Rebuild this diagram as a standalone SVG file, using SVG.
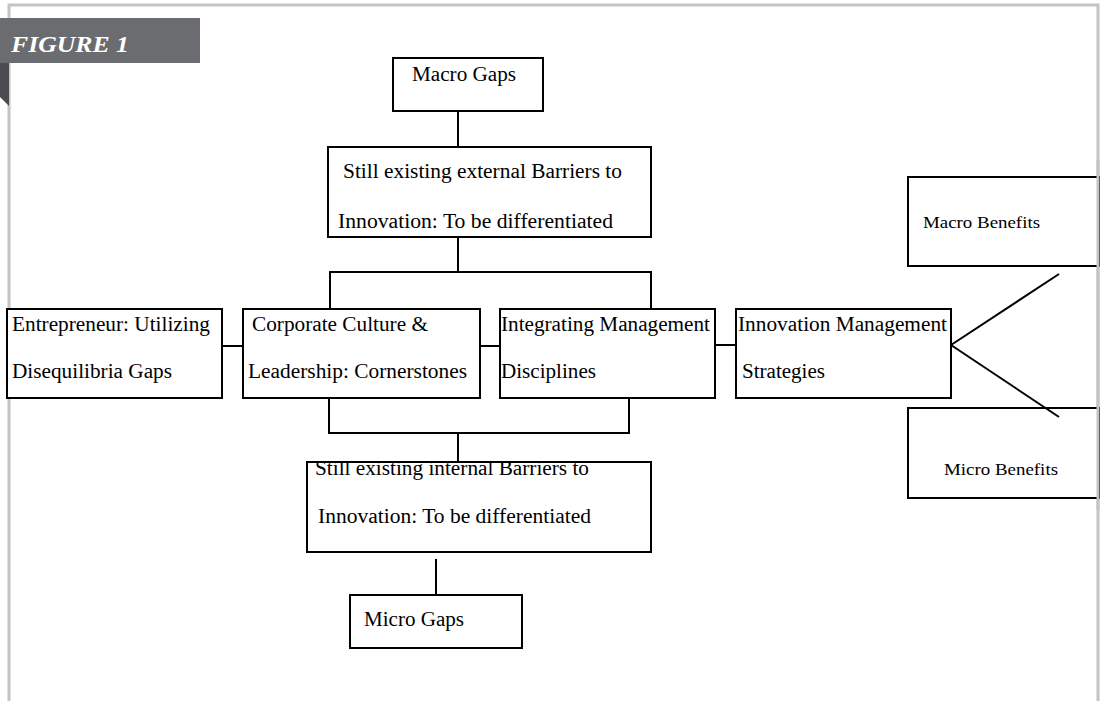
<svg xmlns="http://www.w3.org/2000/svg" width="1100" height="701" viewBox="0 0 1100 701">
<style>
.box{fill:#fff;stroke:#000;stroke-width:2}
.ln{fill:none;stroke:#000;stroke-width:2}
.t{font-family:"Liberation Serif","Times New Roman",serif;font-size:20px;fill:#000}
.s{font-family:"Liberation Serif","Times New Roman",serif;font-size:17px;fill:#000}
</style>
<rect width="1100" height="701" fill="#fff"/>
<path d="M9,701 V5 H1098 V701" fill="none" stroke="#c4c4c4" stroke-width="3"/>
<g id="banner">
<polygon points="0,63 9,63 9,106 0,97" fill="#4b4c50"/>
<rect x="0" y="18" width="200" height="45" fill="#6b6c70"/>
<text x="11" y="52" font-family="Liberation Serif,serif" font-style="italic" font-weight="bold" font-size="23" fill="#fff" textLength="118" lengthAdjust="spacingAndGlyphs">FIGURE 1</text>
</g>
<g id="macro-gaps">
<rect class="box" x="393" y="58" width="150" height="53"/>
<text class="t" x="412" y="81" textLength="104" lengthAdjust="spacingAndGlyphs">Macro Gaps</text>
</g>
<g id="external-barriers">
<rect class="box" x="328" y="147" width="323" height="90"/>
<text class="t" x="343" y="178" textLength="279" lengthAdjust="spacingAndGlyphs">Still existing external Barriers to</text>
<text class="t" x="338" y="228" textLength="275" lengthAdjust="spacingAndGlyphs">Innovation: To be differentiated</text>
</g>
<g id="entrepreneur">
<rect class="box" x="7" y="309" width="215" height="89"/>
<text class="t" x="12" y="331" textLength="198" lengthAdjust="spacingAndGlyphs">Entrepreneur: Utilizing</text>
<text class="t" x="12" y="378" textLength="160" lengthAdjust="spacingAndGlyphs">Disequilibria Gaps</text>
</g>
<g id="corporate-culture">
<rect class="box" x="243" y="309" width="237" height="89"/>
<text class="t" x="252" y="331" textLength="176" lengthAdjust="spacingAndGlyphs">Corporate Culture &amp;</text>
<text class="t" x="248" y="378" textLength="219" lengthAdjust="spacingAndGlyphs">Leadership: Cornerstones</text>
</g>
<g id="integrating">
<rect class="box" x="500" y="309" width="215" height="89"/>
<text class="t" x="501" y="331" textLength="209" lengthAdjust="spacingAndGlyphs">Integrating Management</text>
<text class="t" x="501" y="378" textLength="95" lengthAdjust="spacingAndGlyphs">Disciplines</text>
</g>
<g id="innovation-strategies">
<rect class="box" x="736" y="309" width="215" height="89"/>
<text class="t" x="738" y="331" textLength="209" lengthAdjust="spacingAndGlyphs">Innovation Management</text>
<text class="t" x="742" y="378" textLength="83" lengthAdjust="spacingAndGlyphs">Strategies</text>
</g>
<g id="internal-barriers">
<rect class="box" x="307" y="462" width="344" height="90"/>
<text class="t" x="315" y="475" textLength="274" lengthAdjust="spacingAndGlyphs">Still existing internal Barriers to</text>
<text class="t" x="318" y="523" textLength="273" lengthAdjust="spacingAndGlyphs">Innovation: To be differentiated</text>
</g>
<g id="micro-gaps">
<rect class="box" x="350" y="595" width="172" height="53"/>
<text class="t" x="364" y="626" textLength="100" lengthAdjust="spacingAndGlyphs">Micro Gaps</text>
</g>
<g id="macro-benefits">
<rect class="box" x="908" y="177" width="192" height="89"/>
<text class="s" x="923" y="228" textLength="117" lengthAdjust="spacingAndGlyphs">Macro Benefits</text>
</g>
<g id="micro-benefits">
<rect class="box" x="908" y="408" width="192" height="90"/>
<text class="s" x="944" y="475" textLength="114" lengthAdjust="spacingAndGlyphs">Micro Benefits</text>
</g>
<g id="connectors">
<line class="ln" x1="458" y1="111" x2="458" y2="148"/>
<line class="ln" x1="458" y1="237" x2="458" y2="272"/>
<polyline class="ln" points="330,309 330,272 651,272 651,309"/>
<line class="ln" x1="222" y1="346" x2="243" y2="346"/>
<line class="ln" x1="480" y1="346" x2="500" y2="346"/>
<line class="ln" x1="715" y1="345" x2="736" y2="345"/>
<polyline class="ln" points="329,398 329,433 629,433 629,398"/>
<line class="ln" x1="458" y1="433" x2="458" y2="462"/>
<line class="ln" x1="436" y1="559" x2="436" y2="595"/>
<line class="ln" x1="951" y1="345" x2="1059" y2="274"/>
<line class="ln" x1="951" y1="345" x2="1059" y2="417"/>
</g>
<line x1="1098" y1="160" x2="1098" y2="510" stroke="#c4c4c4" stroke-width="3"/>
</svg>
